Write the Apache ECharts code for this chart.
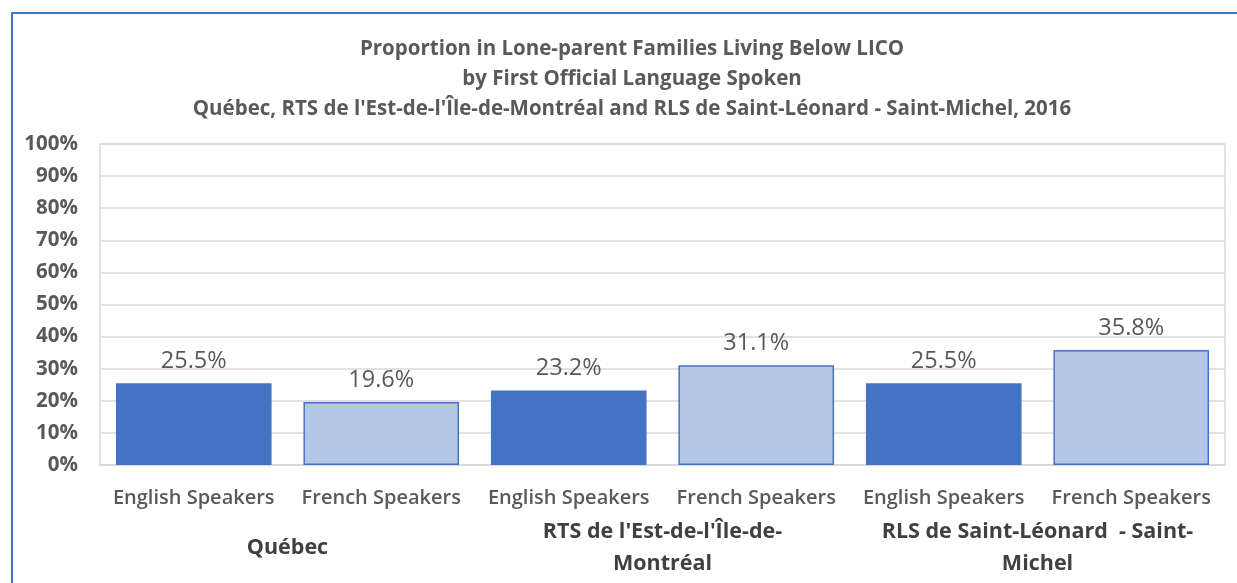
<!DOCTYPE html>
<html>
<head>
<meta charset="utf-8">
<script src="https://cdn.jsdelivr.net/npm/echarts@6/dist/echarts.min.js"></script>
<style>
  html, body { margin: 0; padding: 0; background: #fff; }
  #main { width: 1237px; height: 583px; }
</style>
</head>
<body>
<div id="main"></div>
<script>
// 数据
var speakers = ['English Speakers', 'French Speakers', 'English Speakers', 'French Speakers', 'English Speakers', 'French Speakers'];
var regions = ['Québec', "RTS de l'Est-de-l'Île-de-\nMontréal", 'RLS de Saint-Léonard  - Saint-\nMichel'];
var values = [25.5, 19.6, 23.2, 31.1, 25.5, 35.8];
var yTicks = [0, 100, 10]; // min, max, interval

var chart = echarts.init(document.getElementById('main'));

var barData = values.map(function (v, i) {
  var french = speakers[i].indexOf('French') === 0;
  return {
    value: v,
    itemStyle: french
      ? { color: '#b4c7e7', borderColor: '#4472c4', borderWidth: 1.5 }
      : { color: '#4472c4', borderColor: '#4472c4', borderWidth: 0 }
  };
});

var option = {
  backgroundColor: '#fff',
  textStyle: { fontFamily: 'Open Sans' },
  title: {
    text: 'Proportion in Lone-parent Families Living Below LICO\nby First Official Language Spoken\nQuébec, RTS de l\'Est-de-l\'Île-de-Montréal and RLS de Saint-Léonard - Saint-Michel, 2016',
    left: 632,
    textAlign: 'center',
    top: 34,
    padding: 0,
    textStyle: {
      fontFamily: 'Open Sans',
      fontSize: 20.5,
      fontWeight: 'bold',
      color: '#595959',
      lineHeight: 30
    }
  },
  graphic: [{
    type: 'rect',
    shape: { x: 12, y: 13, width: 1300, height: 700 },
    style: { fill: 'none', stroke: '#4472c4', lineWidth: 2 },
    silent: true
  }],
  grid: {
    left: 100,
    right: 12,
    top: 144,
    bottom: 118,
    show: true,
    borderColor: '#d9d9d9',
    borderWidth: 1.5
  },
  xAxis: [{
    type: 'category',
    data: speakers,
    axisLine: { lineStyle: { color: '#d9d9d9', width: 1.5 } },
    axisTick: { show: false },
    axisLabel: {
      interval: 0,
      margin: 23,
      fontSize: 20,
      fontWeight: 600,
      color: '#595959',
      fontFamily: 'Open Sans'
    }
  }, {
    type: 'category',
    data: regions,
    position: 'bottom',
    axisLine: { show: false },
    axisTick: { show: false },
    splitLine: { show: false },
    axisLabel: {
      interval: 0,
      margin: 83,
      verticalAlign: 'middle',
      fontSize: 21.5,
      fontWeight: 'bold',
      lineHeight: 32,
      color: '#404040',
      fontFamily: 'Open Sans'
    }
  }],
  yAxis: {
    type: 'value',
    min: yTicks[0],
    max: yTicks[1],
    interval: yTicks[2],
    axisLine: { show: false },
    axisTick: { show: false },
    splitLine: { lineStyle: { color: '#d9d9d9', width: 1.5 } },
    axisLabel: {
      formatter: '{value}%',
      margin: 22,
      fontSize: 20.5,
      fontWeight: 'bold',
      color: '#595959',
      fontFamily: 'Open Sans'
    }
  },
  series: [{
    type: 'bar',
    xAxisIndex: 0,
    data: barData,
    barCategoryGap: '17%',
    label: {
      show: true,
      position: 'top',
      distance: 10,
      fontSize: 23.5,
      color: '#595959',
      fontFamily: 'Open Sans',
      formatter: function (p) { return p.value.toFixed(1) + '%'; }
    }
  }]
};

chart.setOption(option);
</script>
</body>
</html>
